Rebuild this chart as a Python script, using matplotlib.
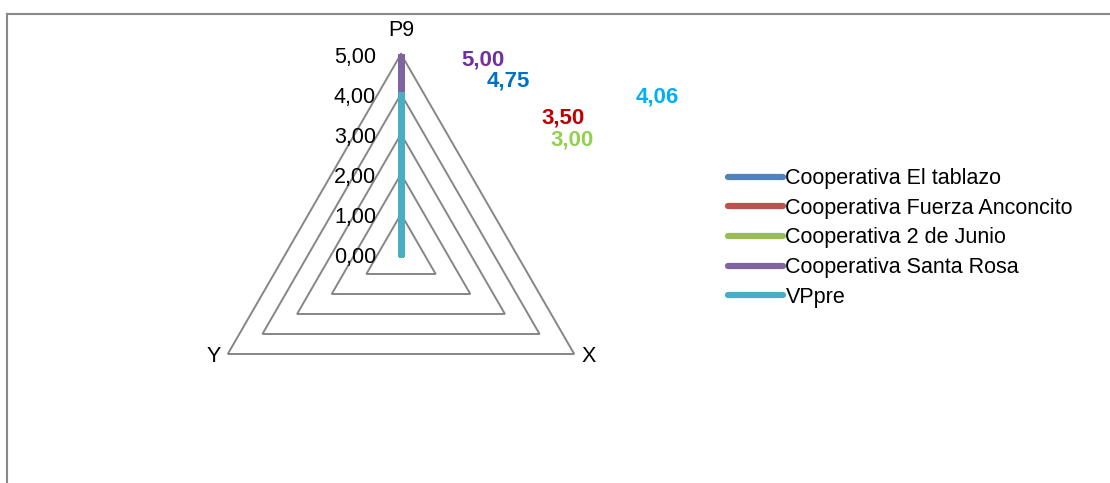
import numpy as np
import matplotlib
matplotlib.use("Agg")
import matplotlib.pyplot as plt
from matplotlib import font_manager
from matplotlib.lines import Line2D

# ---- data ----
axes_labels = ["P9", "X", "Y"]
series_names = ["Cooperativa El tablazo", "Cooperativa Fuerza Anconcito",
                "Cooperativa 2 de Junio", "Cooperativa Santa Rosa", "VPpre"]
p9_values = [4.75, 3.50, 3.00, 5.00, 4.06]
x_values = [0, 0, 0, 0, 0]
y_values = [0, 0, 0, 0, 0]
tick_values = [0, 1, 2, 3, 4, 5]
tick_labels = ["0,00", "1,00", "2,00", "3,00", "4,00", "5,00"]
data_label_texts = ["4,75", "3,50", "3,00", "5,00", "4,06"]

# ---- styles ----
series_colors = ["#4F81BD", "#C0504D", "#9BBB59", "#8064A2", "#4BACC6"]
label_colors = ["#0070C0", "#C00000", "#92D050", "#7030A0", "#00B0F0"]
label_pix = [(508, 81), (563, 118), (572, 140), (483, 60), (657, 97)]  # pixel centers from top-left

names = {f.name for f in font_manager.fontManager.ttflist}
if "Liberation Sans Narrow" in names:
    FONT = "Liberation Sans Narrow"
    fs_tick, fs_leg, fs_lab = 17, 16.5, 16.5
else:
    FONT = "Liberation Sans"
    fs_tick, fs_leg, fs_lab = 15.5, 15.5, 16
plt.rcParams["font.family"] = [FONT, "DejaVu Sans"]

W, H = 1110, 483
fig = plt.figure(figsize=(W / 100, H / 100), dpi=100)

# axes so that 1 data unit = 40 px, center at pixel (401, 254 from top)
cx, cy = 401, H - 254
ppu = 40
xr = (-6.25, 6.25)
yr = (-5.5, 6.0)
left = cx + xr[0] * ppu
bottom = cy + yr[0] * ppu
ax = fig.add_axes([left / W, bottom / H, (xr[1] - xr[0]) * ppu / W, (yr[1] - yr[0]) * ppu / H])
ax.set_xlim(*xr)
ax.set_ylim(*yr)
ax.axis("off")

angles = np.deg2rad([90, -30, 210])
grid_c = "#868686"

# grid triangles
for lvl in tick_values[1:]:
    xs = [lvl * np.cos(a) for a in angles] + [lvl * np.cos(angles[0])]
    ys = [lvl * np.sin(a) for a in angles] + [lvl * np.sin(angles[0])]
    ax.plot(xs, ys, color=grid_c, lw=1.4, zorder=1, solid_joinstyle="miter")

# tick labels along P9 axis
for v, t in zip(tick_values, tick_labels):
    ax.text(-25 / ppu, v - 3 / ppu, t, ha="right", va="center", fontsize=fs_tick, color="black")

# category labels
ax.text(0, 5 + 23 / ppu, axes_labels[0], ha="center", va="center", fontsize=fs_tick)
ax.text(5 * np.cos(angles[1]) + 14 / ppu, 5 * np.sin(angles[1]) - 3 / ppu, axes_labels[1],
        ha="center", va="center", fontsize=fs_tick)
ax.text(5 * np.cos(angles[2]) - 14 / ppu, 5 * np.sin(angles[2]) - 3 / ppu, axes_labels[2],
        ha="center", va="center", fontsize=fs_tick)

# series
handles = []
for i, name in enumerate(series_names):
    vals = [p9_values[i], x_values[i], y_values[i]]
    xs = [v * np.cos(a) for v, a in zip(vals, angles)] + [vals[0] * np.cos(angles[0])]
    ys = [v * np.sin(a) for v, a in zip(vals, angles)] + [vals[0] * np.sin(angles[0])]
    ax.plot(xs, ys, color=series_colors[i], lw=5, zorder=3 + i,
            solid_capstyle="butt", solid_joinstyle="round")
    handles.append(Line2D([], [], color=series_colors[i], lw=4.5, solid_capstyle="round"))

# data labels
for i, t in enumerate(data_label_texts):
    px, py = label_pix[i]
    fig.text(px / W, (H - py) / H, t, ha="center", va="center", fontsize=fs_lab,
             fontweight="bold", color=label_colors[i])

# legend
leg = fig.legend(handles, series_names, loc="center left",
                 bbox_to_anchor=(728 / W, (H - 238) / H), frameon=False,
                 fontsize=fs_leg, handlelength=2.55, handletextpad=0.12,
                 labelspacing=0.4, borderpad=0, borderaxespad=0)

# chart border (top and left visible)
fig.add_artist(Line2D([7 / W, 1.0], [(H - 14) / H, (H - 14) / H], color="#888888", lw=1.5,
                      transform=fig.transFigure))
fig.add_artist(Line2D([7 / W, 7 / W], [(H - 14) / H, 0], color="#888888", lw=1.5,
                      transform=fig.transFigure))

fig.savefig("out.png", dpi=100)
